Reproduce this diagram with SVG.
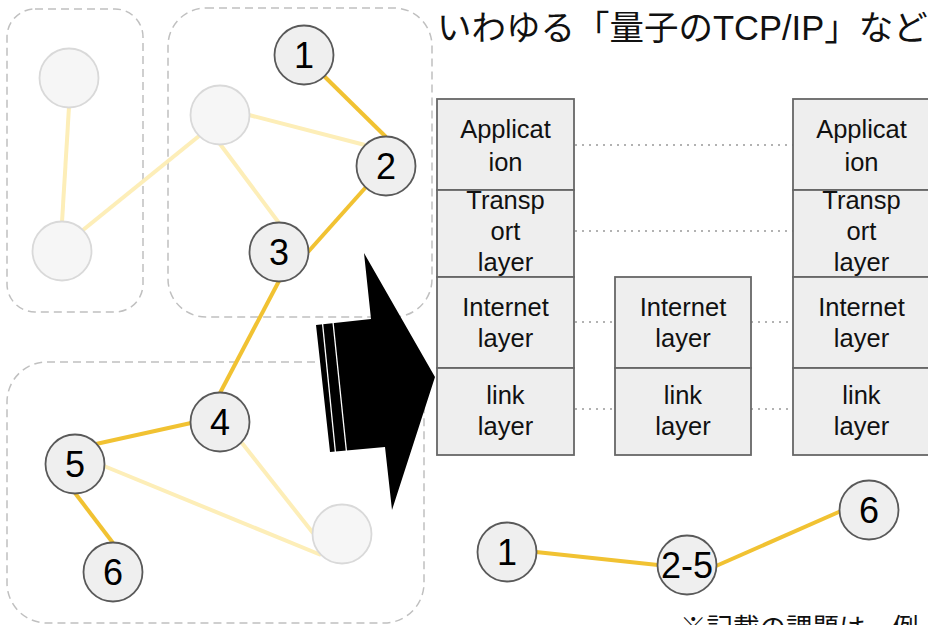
<svg xmlns="http://www.w3.org/2000/svg" width="928" height="625" viewBox="0 0 928 625">
  <style>
    .grp { fill: none; stroke: #c0c0c0; stroke-width: 1.5; stroke-dasharray: 8 5; }
    .e-on { stroke: #f1c232; stroke-width: 4; stroke-linecap: butt; fill: none; }
    .e-off { stroke: #fdeeb8; stroke-width: 4; stroke-linecap: butt; fill: none; }
    .n-on { fill: #efefef; stroke: #595959; stroke-width: 1.8; }
    .n-off { fill: #f6f6f6; stroke: #d9d9d9; stroke-width: 1.8; }
    .num { font-family: "Liberation Sans", Arial, sans-serif; font-size: 36px; fill: #000; text-anchor: middle; }
    .layer { fill: #eeeeee; stroke: #666666; stroke-width: 1.8; }
    .lt { font-family: "Liberation Sans", Arial, sans-serif; font-size: 25.5px; fill: #111; text-anchor: middle; }
    .peer { stroke: #999999; stroke-width: 1.5; stroke-dasharray: 2 5; fill: none; }
    .jp { font-family: "Liberation Sans", "Noto Sans CJK JP", sans-serif; fill: #111; }
  </style>

  <!-- network partitions -->
  <g id="groups">
    <rect class="grp" x="7" y="9" width="136" height="303" rx="28"/>
    <rect class="grp" x="168" y="8" width="264" height="309" rx="38"/>
    <rect class="grp" x="7" y="362" width="417" height="261" rx="40"/>
  </g>

  <!-- links between nodes -->
  <g id="connectors">
    <line class="e-off" x1="69" y1="107" x2="62" y2="222"/>
    <line class="e-off" x1="83" y1="230" x2="199" y2="136"/>
    <line class="e-off" x1="249" y1="115" x2="365" y2="145"/>
    <line class="e-off" x1="220" y1="144" x2="279" y2="223"/>
    <line class="e-off" x1="242" y1="443" x2="313" y2="533"/>
    <line class="e-off" x1="104" y1="466" x2="321" y2="555"/>
    <line class="e-on" x1="324" y1="76" x2="386" y2="137"/>
    <line class="e-on" x1="366" y1="187" x2="308" y2="252"/>
    <line class="e-on" x1="279" y1="281" x2="220" y2="393"/>
    <line class="e-on" x1="191" y1="423" x2="96" y2="444"/>
    <line class="e-on" x1="75" y1="493" x2="113" y2="543"/>
    <line class="e-on" x1="536" y1="552" x2="658" y2="565"/>
    <line class="e-on" x1="716" y1="566" x2="841" y2="511"/>
    <!-- peer relations between protocol layers -->
    <line class="peer" x1="575" y1="145" x2="793" y2="145"/>
    <line class="peer" x1="575" y1="231" x2="793" y2="231"/>
    <line class="peer" x1="575" y1="322" x2="615" y2="322"/>
    <line class="peer" x1="751" y1="322" x2="793" y2="322"/>
    <line class="peer" x1="575" y1="409" x2="615" y2="409"/>
    <line class="peer" x1="751" y1="409" x2="793" y2="409"/>
  </g>

  <!-- inactive nodes -->
  <g id="node-a"><circle class="n-off" cx="69" cy="78" r="29.5"/></g>
  <g id="node-b"><circle class="n-off" cx="62" cy="251" r="29.5"/></g>
  <g id="node-c"><circle class="n-off" cx="220" cy="115" r="29.5"/></g>
  <g id="node-d"><circle class="n-off" cx="342" cy="534" r="29.5"/></g>

  <!-- path nodes -->
  <g id="node-1"><circle class="n-on" cx="304" cy="55" r="29.5"/><text class="num" x="304" y="68">1</text></g>
  <g id="node-2"><circle class="n-on" cx="386" cy="166" r="29.5"/><text class="num" x="386" y="179">2</text></g>
  <g id="node-3"><circle class="n-on" cx="279" cy="252" r="29.5"/><text class="num" x="279" y="265">3</text></g>
  <g id="node-4"><circle class="n-on" cx="220" cy="422" r="29.5"/><text class="num" x="220" y="435">4</text></g>
  <g id="node-5"><circle class="n-on" cx="75" cy="464" r="29.5"/><text class="num" x="75" y="477">5</text></g>
  <g id="node-6"><circle class="n-on" cx="113" cy="572" r="29.5"/><text class="num" x="113" y="585">6</text></g>

  <!-- big arrow -->
  <g id="arrow">
    <polygon points="316,325 371,319 364,253 435,377 392,510 385,447 330,452" fill="#000"/>
    <line x1="322.5" y1="323" x2="335.5" y2="453" stroke="#fff" stroke-width="1.3"/>
    <line x1="333" y1="322" x2="346.5" y2="452" stroke="#fff" stroke-width="1.3"/>
  </g>

  <!-- heading -->
  <g id="title">
    <text class="jp" x="437" y="40" font-size="34.5">いわゆる「量子のTCP/IP」など</text>
  </g>

  <!-- endpoint stack (left) -->
  <g id="stack-left">
    <rect class="layer" x="437" y="99" width="137" height="91"/>
    <text class="lt" x="505.5" y="138">Applicat</text>
    <text class="lt" x="505.5" y="171">ion</text>
    <rect class="layer" x="437" y="190" width="137" height="87"/>
    <text class="lt" x="505.5" y="209">Transp</text>
    <text class="lt" x="505.5" y="240">ort</text>
    <text class="lt" x="505.5" y="271">layer</text>
    <rect class="layer" x="437" y="277" width="137" height="91"/>
    <text class="lt" x="505.5" y="316">Internet</text>
    <text class="lt" x="505.5" y="347">layer</text>
    <rect class="layer" x="437" y="368" width="137" height="87"/>
    <text class="lt" x="505.5" y="404">link</text>
    <text class="lt" x="505.5" y="435">layer</text>
  </g>

  <!-- relay stack (middle) -->
  <g id="stack-middle">
    <rect class="layer" x="615" y="277" width="136" height="91"/>
    <text class="lt" x="683" y="316">Internet</text>
    <text class="lt" x="683" y="347">layer</text>
    <rect class="layer" x="615" y="368" width="136" height="87"/>
    <text class="lt" x="683" y="404">link</text>
    <text class="lt" x="683" y="435">layer</text>
  </g>

  <!-- endpoint stack (right) -->
  <g id="stack-right">
    <rect class="layer" x="793" y="99" width="137" height="91"/>
    <text class="lt" x="861.5" y="138">Applicat</text>
    <text class="lt" x="861.5" y="171">ion</text>
    <rect class="layer" x="793" y="190" width="137" height="87"/>
    <text class="lt" x="861.5" y="209">Transp</text>
    <text class="lt" x="861.5" y="240">ort</text>
    <text class="lt" x="861.5" y="271">layer</text>
    <rect class="layer" x="793" y="277" width="137" height="91"/>
    <text class="lt" x="861.5" y="316">Internet</text>
    <text class="lt" x="861.5" y="347">layer</text>
    <rect class="layer" x="793" y="368" width="137" height="87"/>
    <text class="lt" x="861.5" y="404">link</text>
    <text class="lt" x="861.5" y="435">layer</text>
  </g>

  <!-- abstracted path -->
  <g id="path-1"><circle class="n-on" cx="507" cy="552" r="29.5"/><text class="num" x="507" y="565">1</text></g>
  <g id="path-2-5"><circle class="n-on" cx="687" cy="565" r="29.5"/><text class="num" x="687" y="578">2-5</text></g>
  <g id="path-6"><circle class="n-on" cx="869" cy="510" r="29.5"/><text class="num" x="869" y="523">6</text></g>

  <!-- footnote -->
  <g id="note">
    <text class="jp" x="680" y="637" font-size="26.5">※記載の課題は一例</text>
  </g>
</svg>
